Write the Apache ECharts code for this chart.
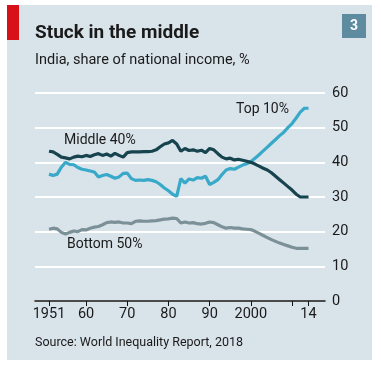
<!DOCTYPE html>
<html><head><meta charset="utf-8">
<script src="https://cdn.jsdelivr.net/npm/echarts@6/dist/echarts.min.js"></script>
<style>html,body{margin:0;padding:0;background:#fff}#c{width:381px;height:366px}</style>
</head><body><div id="c"></div>
<script>
const years = [];
for (let y = 1951; y <= 2014; y++) years.push(y);
const middle40 = [43.2,43.0,42.3,41.5,41.3,41.0,41.5,41.8,41.6,42.0,41.7,42.2,42.5,42.0,42.4,41.8,42.6,42.0,41.5,42.8,43.0,43.0,43.0,43.1,43.1,43.2,43.6,44.5,45.3,45.6,46.3,45.3,43.2,44.0,43.4,43.6,43.2,43.5,42.8,44.0,43.6,42.5,41.5,41.0,41.2,40.7,40.9,40.6,40.3,40.0,39.5,38.9,38.3,37.8,37.0,36.0,35.0,34.0,33.0,32.0,30.8,30.0,30.0,30.0];
const top10 = [36.6,36.2,36.6,38.6,40.0,39.4,39.3,38.5,38.0,37.8,37.5,37.2,35.8,36.2,36.5,36.0,35.4,35.8,36.8,36.9,35.3,34.8,34.9,34.8,35.0,34.8,34.4,33.6,32.6,31.8,30.8,30.2,35.3,34.0,35.2,34.9,35.6,35.4,36.0,33.6,34.2,35.0,36.5,37.8,38.2,38.0,38.6,39.2,39.6,40.2,41.2,42.2,43.3,44.4,45.5,46.6,47.7,48.7,50.0,51.2,52.8,54.5,55.6,55.6];
const bottom50 = [20.7,21.0,20.8,19.8,19.3,19.8,20.2,20.0,20.6,20.5,21.0,21.3,21.5,22.0,22.6,22.8,22.7,22.8,22.5,22.5,22.3,23.0,23.1,23.0,23.0,23.1,23.2,23.4,23.6,23.7,23.9,23.8,22.5,22.8,22.5,22.6,22.3,22.2,22.4,22.8,22.6,22.0,21.4,21.0,21.2,21.0,21.0,20.8,20.7,20.6,20.1,19.5,18.9,18.3,17.7,17.2,16.7,16.3,15.9,15.5,15.2,15.2,15.2,15.2];
const xTickValues = [1951,1960,1970,1980,1990,2000,2010,2014];
const xLabelValues = [1951,1960,1970,1980,1990,2000,2014];
const xLabelText = {1951:'1951',1960:'60',1970:'70',1980:'80',1990:'90',2000:'2000',2014:'14'};
const yTicks = [0,10,20,30,40,50,60];

const pair = arr => years.map((y,i)=>[y,arr[i]]);
const font = 'Roboto, "Noto Sans", sans-serif';
const chart = echarts.init(document.getElementById('c'));
chart.setOption({
  animation:false,
  backgroundColor:'#ffffff',
  graphic:[
    {type:'rect',z:-10,shape:{x:7,y:5,width:365,height:355},style:{fill:'#d9e3ea'}},
    {type:'rect',shape:{x:7,y:5,width:12,height:35},style:{fill:'#d7101a'}},
    {type:'rect',shape:{x:342,y:14,width:24,height:24},style:{fill:'#5f8ba1'}},
    {type:'text',x:354,y:26,style:{text:'3',fill:'#fff',font:'bold 14px '+font,align:'center',verticalAlign:'middle'}},
    {type:'text',x:35,y:33,style:{text:'Stuck in the middle',fill:'#1a1a1a',font:'bold 19px '+font,verticalAlign:'middle'}},
    {type:'text',x:35,y:60,style:{text:'India, share of national income, %',fill:'#1a1a1a',font:'14.5px '+font,verticalAlign:'middle'}},
    {type:'text',x:35,y:343,style:{text:'Source: World Inequality Report, 2018',fill:'#1a1a1a',font:'12.5px '+font,verticalAlign:'middle'}},
    {type:'text',x:64,y:140,style:{text:'Middle 40%',fill:'#1a1a1a',font:'14px '+font,verticalAlign:'middle'}},
    {type:'text',x:236,y:109,style:{text:'Top 10%',fill:'#1a1a1a',font:'14px '+font,verticalAlign:'middle'}},
    {type:'text',x:67,y:244,style:{text:'Bottom 50%',fill:'#1a1a1a',font:'14px '+font,verticalAlign:'middle'}}
  ],
  grid:{left:35,right:56,top:93,bottom:65},
  xAxis:{type:'value',min:1947.6,max:2018,
    axisLine:{show:true,onZero:false,lineStyle:{color:'#111',width:1.5}},
    axisTick:{show:true,inside:false,length:5,customValues:xTickValues,lineStyle:{color:'#111',width:1}},
    axisLabel:{customValues:xLabelValues,formatter:v=>xLabelText[v]||'',color:'#1a1a1a',fontSize:14.5,fontFamily:font,margin:6},
    splitLine:{show:false}},
  yAxis:{type:'value',position:'right',min:0,max:60,interval:10,
    axisLine:{show:false},axisTick:{show:false},
    axisLabel:{color:'#1a1a1a',fontSize:14.5,fontFamily:font,margin:7,formatter:v=>String(v)},
    splitLine:{show:true,lineStyle:{color:'#ffffff',width:2}}},
  series:[
    {name:'Bottom 50%',type:'line',data:pair(bottom50),showSymbol:false,lineStyle:{color:'#7c9098',width:3.2},z:3},
    {name:'Top 10%',type:'line',data:pair(top10),showSymbol:false,lineStyle:{color:'#38a9c9',width:3.2},z:4},
    {name:'Middle 40%',type:'line',data:pair(middle40),showSymbol:false,lineStyle:{color:'#17434e',width:3.2},z:5}
  ]
});
</script></body></html>
